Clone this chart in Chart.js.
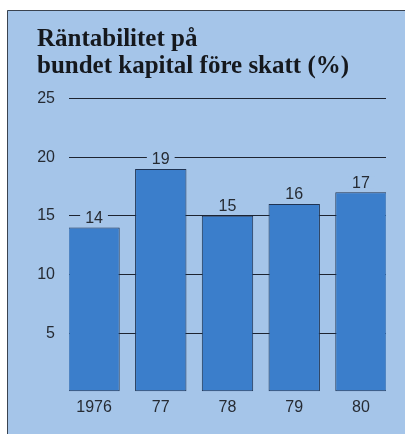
<!DOCTYPE html>
<html>
<head>
<meta charset="utf-8">
<script src="https://cdn.jsdelivr.net/npm/chart.js@4/dist/chart.umd.min.js"></script>
<style>
  html, body { margin: 0; padding: 0; background: #fff; }
  #frame { width: 405px; height: 434px; }
</style>
</head>
<body>
<div id="frame"><canvas id="DataChart" width="405" height="434"></canvas></div>
<script>
// data
const years = ['1976', '77', '78', '79', '80']
const values = [14, 19, 15, 16, 17]
const yTicks = [5, 10, 15, 20, 25]
const titleLines = ['Räntabilitet på', 'bundet kapital före skatt (%)']

const panelColor = '#a5c5e9'
const barColor = '#3b7ecb'
const lineColor = '#1d2431'
const textColor = '#262b33'

// light blue panel with the thin border at top and left
const panel = {
  id: 'panel',
  beforeDraw: (chart) => {
    const ctx = chart.ctx
    ctx.save()
    ctx.fillStyle = '#ffffff'
    ctx.fillRect(0, 0, chart.width, chart.height)
    ctx.fillStyle = panelColor
    ctx.fillRect(7, 10, chart.width - 7, chart.height - 10)
    ctx.strokeStyle = '#3a4350'
    ctx.lineWidth = 1
    ctx.beginPath()
    ctx.moveTo(7.5, chart.height)
    ctx.lineTo(7.5, 10.5)
    ctx.lineTo(chart.width, 10.5)
    ctx.stroke()
    ctx.restore()
  }
}

// value on top of each bar, with a patch of panel colour that cuts the grid line
const valueLabels = {
  id: 'valueLabels',
  afterDraw: (chart) => {
    const ctx = chart.ctx
    const meta = chart.getDatasetMeta(0)
    ctx.save()
    ctx.font = '16px "Liberation Sans", Arial, sans-serif'
    ctx.textAlign = 'center'
    ctx.textBaseline = 'middle'
    meta.data.forEach((bar, i) => {
      const txt = String(values[i])
      const w = ctx.measureText(txt).width
      const y = bar.y - 10
      ctx.fillStyle = panelColor
      ctx.fillRect(bar.x - w / 2 - 5, y - 6, w + 10, 12)
      ctx.fillStyle = textColor
      ctx.fillText(txt, bar.x, y + 1)
    })
    ctx.restore()
  }
}

const config = {
  type: 'bar',
  data: {
    datasets: [{
      data: values.map((v, i) => ({ x: i, y: v })),
      backgroundColor: barColor,
      borderColor: '#1f3352',
      borderWidth: 1,
      borderSkipped: false,
      barPercentage: 0.77,
      categoryPercentage: 1
    }]
  },
  options: {
    responsive: false,
    animation: false,
    layout: { padding: { top: 10, left: 37, right: 19, bottom: 11 } },
    scales: {
      x: {
        type: 'linear',
        offset: false,
        min: -0.375,
        max: 4.375,
        afterBuildTicks: (scale) => { scale.ticks = years.map((_, i) => ({ value: i })) },
        grid: { display: false, drawTicks: false },
        border: { display: false },
        ticks: {
          padding: 6,
          color: textColor,
          font: { family: '"Liberation Sans", Arial, sans-serif', size: 16 },
          callback: (v) => years[v]
        }
      },
      y: {
        min: 0,
        max: 25,
        z: 1,
        afterBuildTicks: (scale) => { scale.ticks = [0].concat(yTicks).map(v => ({ value: v })) },
        afterFit: (scale) => { scale.width = 32 },
        grid: {
          drawTicks: false,
          lineWidth: 1,
          color: (c) => c.tick && c.tick.value === 0 ? 'rgba(0,0,0,0)' : lineColor
        },
        border: { display: false },
        ticks: {
          padding: 14,
          color: textColor,
          font: { family: '"Liberation Sans", Arial, sans-serif', size: 16 },
          callback: (v) => v === 0 ? '' : v
        }
      }
    },
    plugins: {
      legend: { display: false },
      tooltip: { enabled: false },
      title: {
        display: true,
        text: titleLines,
        align: 'start',
        color: '#15181d',
        font: { family: '"Liberation Serif", "Times New Roman", serif', size: 25, weight: 'bold', lineHeight: 1.07 },
        padding: { top: 16, bottom: 19 }
      }
    }
  },
  plugins: [panel, valueLabels]
}

const myChart = new Chart(document.getElementById('DataChart'), config)
</script>
</body>
</html>
